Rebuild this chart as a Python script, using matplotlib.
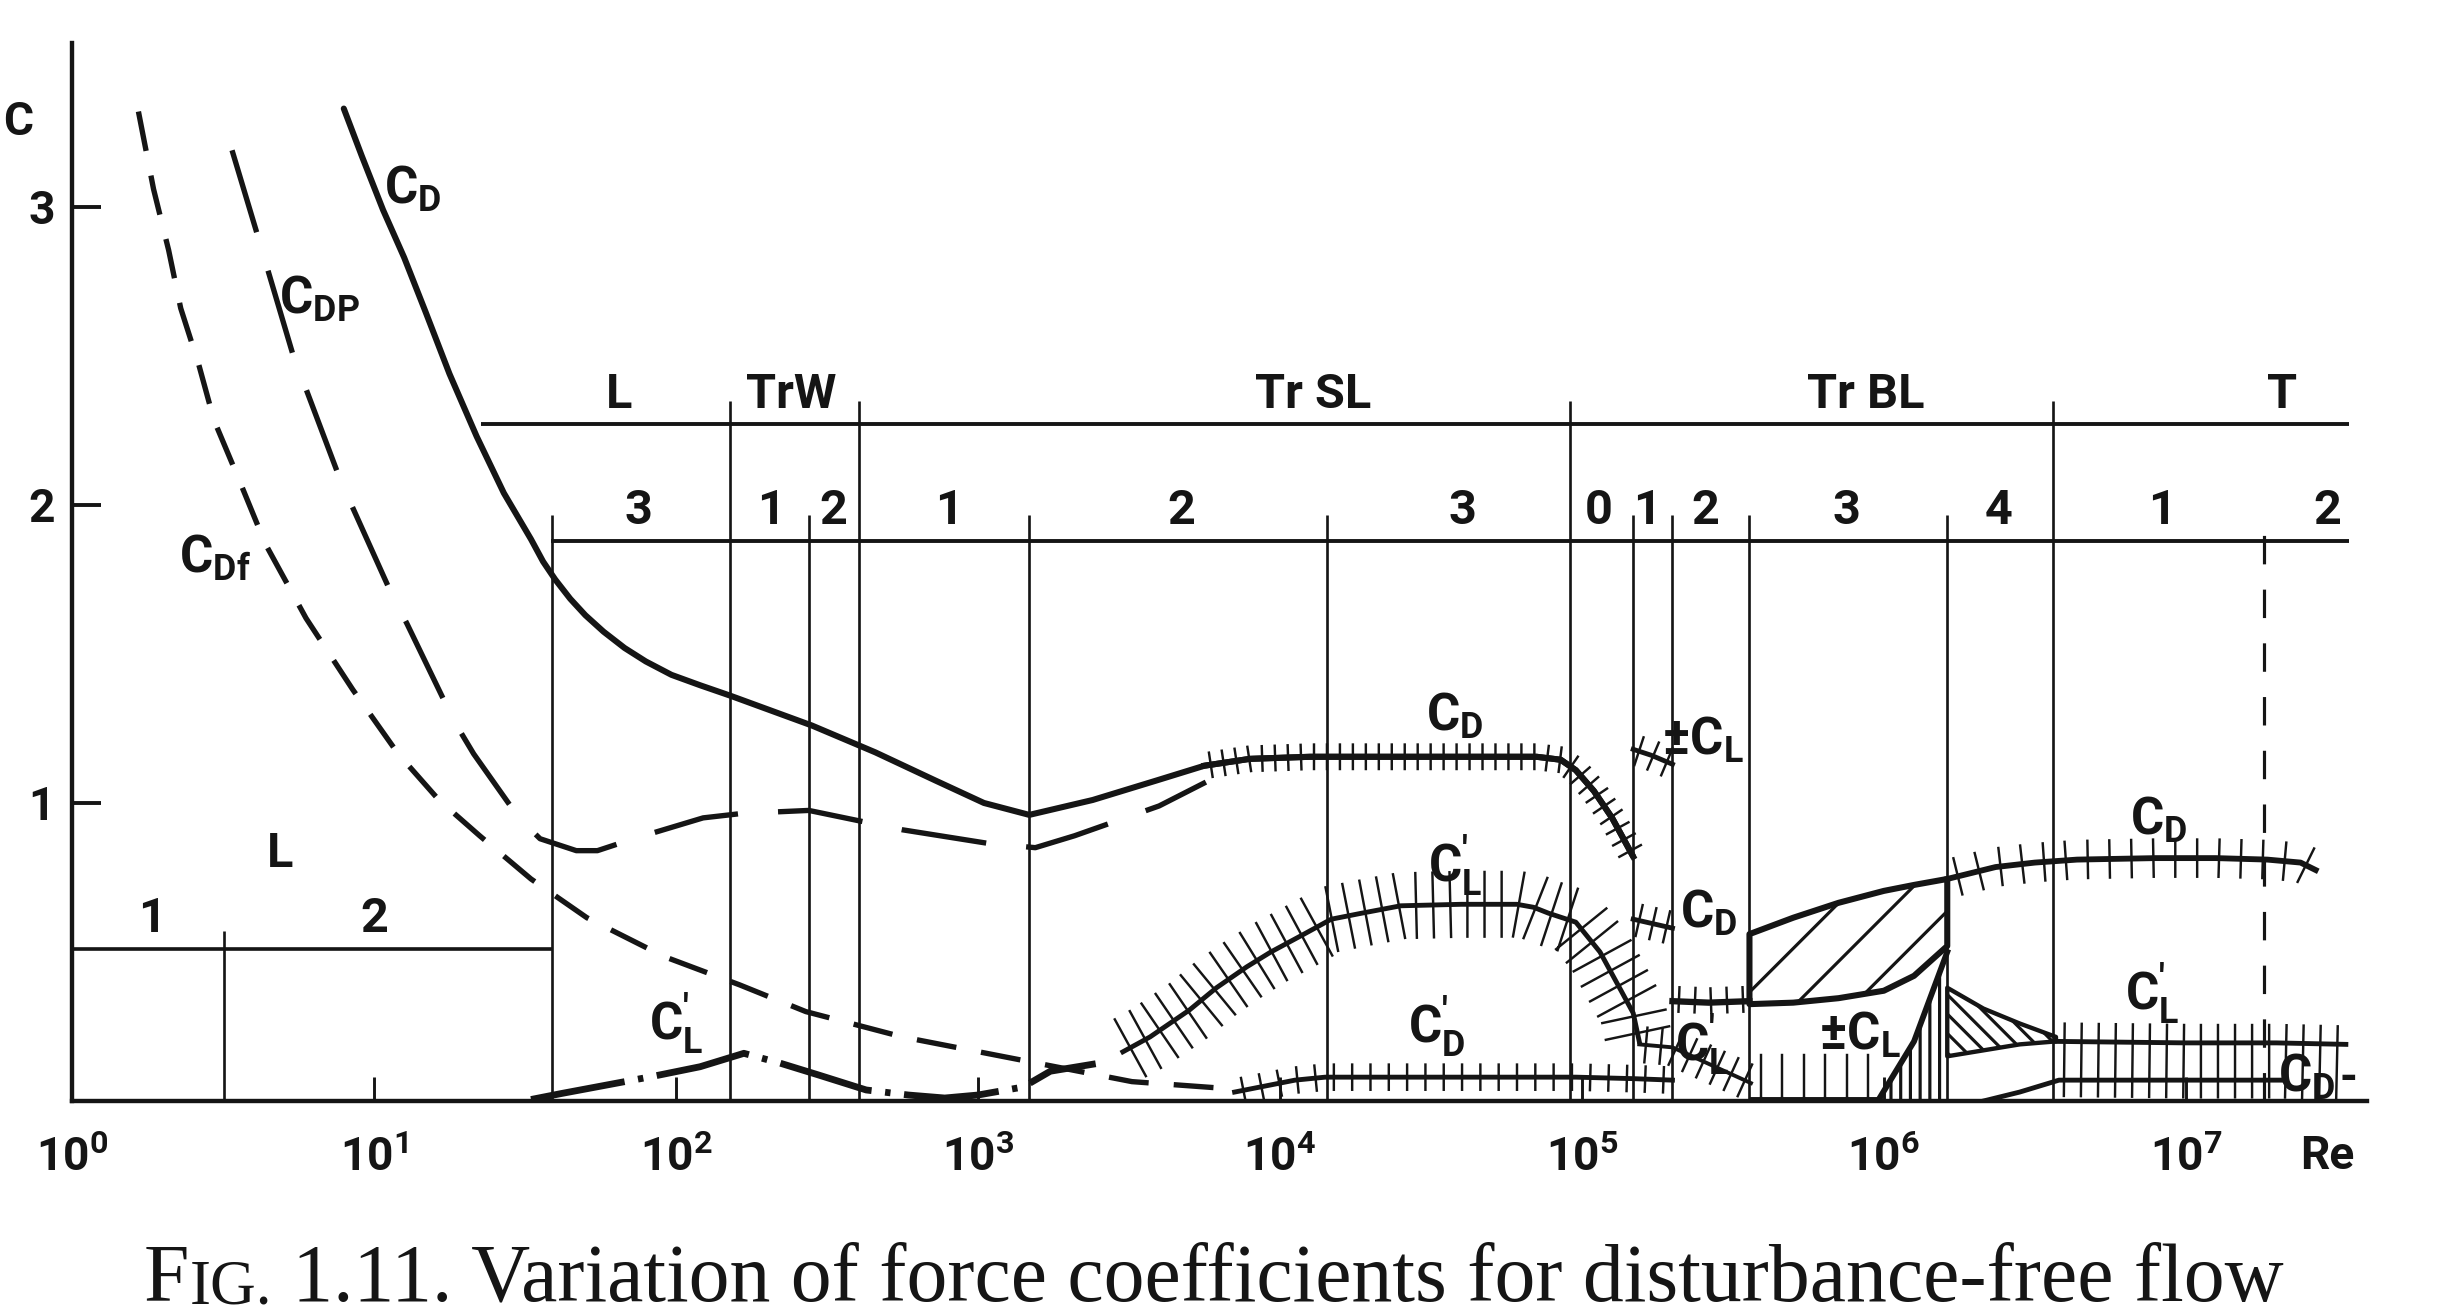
import matplotlib
matplotlib.use('Agg')
import matplotlib.pyplot as plt
import matplotlib.patheffects as pe
from matplotlib.ticker import NullLocator
import numpy as np

# ---- values: log10(Re) and C ----
# total drag C_D (laminar + subcritical)
cd_logre = [0.90, 0.96, 1.03, 1.10, 1.17, 1.25, 1.34, 1.43, 1.52, 1.56, 1.60, 1.65,
            1.70, 1.76, 1.83, 1.90, 1.985, 2.08, 2.18, 2.45, 2.66, 2.86, 3.02, 3.17,
            3.38, 3.59, 3.75, 3.90, 4.10, 4.50, 4.85, 4.93, 4.98, 5.04, 5.10, 5.17]
cd = [3.33, 3.17, 2.99, 2.83, 2.65, 2.44, 2.23, 2.04, 1.885, 1.81, 1.75, 1.685,
      1.63, 1.575, 1.52, 1.475, 1.43, 1.395, 1.36, 1.26, 1.17, 1.075, 1.00, 0.96,
      1.01, 1.075, 1.125, 1.148, 1.155, 1.155, 1.155, 1.145, 1.11, 1.04, 0.95, 0.82]
cd_hatch_from = 26  # index where the hatched (fluctuating) part starts

# pressure drag C_Dp
cdp_logre = [0.53, 0.61, 0.73, 0.89, 1.05, 1.11, 1.265, 1.33, 1.48, 1.55, 1.67, 1.74,
             1.86, 2.09, 2.22, 2.44, 2.75, 3.03, 3.19, 3.32, 3.60, 3.755]
cdp = [3.19, 2.92, 2.51, 2.08, 1.72, 1.60, 1.275, 1.165, 0.95, 0.88, 0.84, 0.84,
       0.88, 0.95, 0.965, 0.975, 0.91, 0.865, 0.85, 0.89, 0.99, 1.07]

# friction drag C_Df
cdf_logre = [0.22, 0.27, 0.32, 0.36, 0.42, 0.47, 0.555, 0.64, 0.775, 0.93, 1.08, 1.215,
             1.35, 1.52, 1.705, 1.96, 2.21, 2.43, 2.75, 3.13, 3.51, 3.78]
cdf = [3.32, 3.06, 2.855, 2.66, 2.47, 2.285, 2.08, 1.87, 1.62, 1.38, 1.165, 1.01,
       0.89, 0.745, 0.615, 0.485, 0.39, 0.30, 0.215, 0.14, 0.065, 0.045]

# fluctuating lift C_L' at low Re
cl_low_logre = [1.52, 1.62, 1.92, 2.08, 2.225, 2.345, 2.47, 2.63, 2.77, 2.89, 3.0, 3.15, 3.24, 3.39]
cl_low = [0.005, 0.025, 0.082, 0.115, 0.16, 0.127, 0.088, 0.037, 0.02, 0.01, 0.02, 0.047, 0.10, 0.125]

# fluctuating lift C_L' subcritical
cl_logre = [3.48, 3.57, 3.70, 3.79, 3.89, 3.97, 4.08, 4.17, 4.27, 4.40, 4.60, 4.785,
            4.84, 4.89, 4.98, 5.06, 5.13, 5.17, 5.19]
cl = [0.165, 0.215, 0.305, 0.38, 0.45, 0.50, 0.56, 0.61, 0.63, 0.655, 0.66, 0.66,
      0.65, 0.63, 0.60, 0.50, 0.37, 0.295, 0.20]

# fluctuating drag C_D'
cdf_fl_logre = [3.85, 3.95, 4.05, 4.15, 4.50, 4.98, 5.17, 5.30]
cd_fl = [0.03, 0.05, 0.07, 0.08, 0.08, 0.08, 0.075, 0.07]

# critical range pieces
clpm_logre = [5.17, 5.23, 5.30]
clpm = [1.18, 1.16, 1.13]
cd_mid_logre = [5.17, 5.30]
cd_mid = [0.61, 0.58]
cd_low_logre = [5.30, 5.42, 5.555]
cd_low = [0.335, 0.33, 0.335]
cl_sup_logre = [5.19, 5.30, 5.56]
cl_sup = [0.19, 0.18, 0.06]
clb_logre = [5.56, 5.98]
clb = [0.01, 0.01]

# supercritical band of C_D
band_logre = [5.555, 5.70, 5.85, 6.0, 6.1, 6.21]
band_hi = [0.56, 0.615, 0.665, 0.705, 0.725, 0.745]
band_lo = [0.325, 0.33, 0.345, 0.37, 0.42, 0.52]

# +-C_L rise and its wedge
rise_logre = [5.98, 6.10, 6.21]
rise = [0.0, 0.20, 0.50]
wedge_logre = [6.21, 6.33, 6.45, 6.57]
wedge_hi = [0.38, 0.31, 0.26, 0.215]
wedge_lo = [0.15, 0.17, 0.19, 0.20]

# transcritical
cdr_logre = [6.21, 6.37, 6.5, 6.64, 6.9, 7.1, 7.27, 7.38, 7.43]
cdr = [0.745, 0.785, 0.80, 0.81, 0.815, 0.815, 0.81, 0.80, 0.775]
clr_logre = [6.57, 7.0, 7.3, 7.53]
clr = [0.20, 0.195, 0.195, 0.19]
cdfr_logre = [6.33, 6.45, 6.58, 7.0, 7.32]
cdfr = [0.0, 0.03, 0.07, 0.07, 0.07]

# regime boundaries
upper_logre = [2.18, 2.605, 4.96, 6.56]
lower_logre = [1.59, 2.44, 3.17, 4.156, 5.17, 5.30, 5.555, 6.21]
dashed_logre = 7.26
band1_y, band2_y = 2.27, 1.88
band1_names = ['L', 'TrW', 'Tr SL', 'Tr BL', 'T']
band1_logre = [1.81, 2.38, 4.11, 5.94, 7.32]
band2_names = ['3', '1', '2', '1', '2', '3', '0', '1', '2', '3', '4', '1', '2']
band2_logre = [1.875, 2.315, 2.52, 2.905, 3.675, 4.606, 5.056, 5.215, 5.41, 5.877, 6.38, 6.92, 7.47]

INK = '#151515'

plt.rcParams['font.family'] = ['Roboto', 'DejaVu Sans']
plt.rcParams['font.weight'] = 'bold'
plt.rcParams['mathtext.default'] = 'regular'
plt.rcParams['hatch.linewidth'] = 1.3
plt.rcParams['hatch.color'] = INK


def re(v):
    return 10 ** np.asarray(v, dtype=float)


def ticks(spacing, up, down, lw=1.0):
    return [pe.TickedStroke(spacing=spacing, angle=90, length=up, linewidth=lw),
            pe.TickedStroke(spacing=spacing, angle=-90, length=down, linewidth=lw),
            pe.Normal()]


fig = plt.figure(figsize=(2448 / 175, 1316 / 175), dpi=175, facecolor='white')
ax = fig.add_axes([72 / 2448, 215 / 1316, 2295 / 2448, 1058 / 1316])
ax.set_xscale('log')
ax.set_xlim(1, 10 ** 7.6)
ax.set_ylim(0, 3.55)
for s in ['top', 'right']:
    ax.spines[s].set_visible(False)
for s in ['left', 'bottom']:
    ax.spines[s].set_linewidth(1.8)
    ax.spines[s].set_color(INK)

ax.set_xticks(re(range(8)))
ax.set_xticklabels([r'$10^{%d}$' % i for i in range(8)], fontsize=19)
ax.xaxis.set_minor_locator(NullLocator())
ax.tick_params(axis='x', direction='in', length=10, width=1.2, pad=14, colors=INK)
ax.set_yticks([1, 2, 3])
ax.set_yticklabels(['1', '2', '3'], fontsize=19)
ax.tick_params(axis='y', direction='in', length=12, width=1.6, pad=7, colors=INK)
fig.text(3 / 2448, 1 - 122 / 1316, 'C', fontsize=19, ha='left', va='center', color=INK)
ax.text(re(7.47), -0.185, 'Re', fontsize=19, ha='center', va='center', color=INK, clip_on=False)

# regime grid
ax.hlines(band1_y, re(1.354), re(7.54), color=INK, lw=1.6)
ax.hlines(band2_y, re(1.586), re(7.54), color=INK, lw=1.6)
ax.vlines(re(upper_logre), 0, 2.35, color=INK, lw=1.1)
ax.vlines(re(lower_logre), 0, 1.965, color=INK, lw=1.1)
ax.vlines(re(dashed_logre), 0, 1.965, color=INK, lw=1.3, linestyles=[(0, (9, 8))])
ax.hlines(0.51, 1, re(1.59), color=INK, lw=1.5)
ax.vlines(re(0.505), 0, 0.57, color=INK, lw=1.1)

for name, x in zip(band1_names, band1_logre):
    ax.text(re(x), 2.37, name, fontsize=20, ha='center', va='center', color=INK)
for name, x in zip(band2_names, band2_logre):
    ax.text(re(x), 1.98, name, fontsize=20, ha='center', va='center', color=INK)
ax.text(re(0.264), 0.61, '1', fontsize=20, ha='center', va='center', color=INK)
ax.text(re(1.0), 0.61, '2', fontsize=20, ha='center', va='center', color=INK)
ax.text(re(0.69), 0.83, 'L', fontsize=20, ha='center', va='center', color=INK)

# curves
ax.plot(re(cd_logre), cd, color=INK, lw=2.5, solid_capstyle='round', solid_joinstyle='round')
ax.plot(re(cd_logre[cd_hatch_from:]), cd[cd_hatch_from:], color=INK, lw=2.5,
        path_effects=ticks(5.3, 0.95, 0.95))
ax.plot(re(cdp_logre), cdp, color=INK, lw=2.2, linestyle=(0, (16, 7.5)))
ax.plot(re(cdf_logre), cdf, color=INK, lw=2.2, linestyle=(0, (7.5, 4.7)))
ax.plot(re(cl_low_logre), cl_low, color=INK, lw=2.8, linestyle=(0, (14, 2, 0.8, 2)))
ax.plot(re(cl_logre), cl, color=INK, lw=2.0, path_effects=ticks(7, 1.9, 1.9))
ax.plot(re(cdf_fl_logre), cd_fl, color=INK, lw=2.0, path_effects=ticks(7.4, 0.7, 0.7))
ax.plot(re(clpm_logre), clpm, color=INK, lw=2.0, path_effects=ticks(5, 1.2, 1.2))
ax.plot(re(cd_mid_logre), cd_mid, color=INK, lw=2.0, path_effects=ticks(5, 1.3, 1.3))
ax.plot(re(cd_low_logre), cd_low, color=INK, lw=2.6, path_effects=ticks(5.3, 1.1, 0.8))
ax.plot(re(cl_sup_logre), cl_sup, color=INK, lw=1.6, path_effects=ticks(5.5, 1.3, 1.3))
ax.plot(re(clb_logre), clb, color=INK, lw=1.2, path_effects=ticks(8, 2.2, 0.1))

ax.fill_between(re(band_logre), band_lo, band_hi, facecolor='none', edgecolor=INK,
                hatch='/', lw=2.5)
ax.fill_between(re(rise_logre), 0, rise, facecolor='none', edgecolor=INK, hatch='|||', lw=0)
ax.plot(re(rise_logre), rise, color=INK, lw=2.4)
ax.fill_between(re(wedge_logre), wedge_lo, wedge_hi, facecolor='none', edgecolor=INK,
                hatch='\\\\\\', lw=1.8)
ax.plot(re(cdr_logre), cdr, color=INK, lw=2.4, path_effects=ticks(9, 0.85, 0.85))
ax.plot(re(clr_logre), clr, color=INK, lw=2.0, path_effects=ticks(7, 1.05, 3.2))
ax.plot(re(cdfr_logre), cdfr, color=INK, lw=2.0)

# curve labels
labels = [
    (1.13, 3.06, r'$C_D$'), (0.82, 2.69, r'$C_{DP}$'), (0.475, 1.82, r'$C_{Df}$'),
    (4.58, 1.29, r'$C_D$'), (5.40, 1.21, r'$\pm C_L$'), (4.58, 0.79, r"$C_L^{\prime}$"),
    (5.42, 0.63, r'$C_D$'), (2.0, 0.26, r"$C_L^{\prime}$"), (4.52, 0.25, r"$C_D^{\prime}$"),
    (5.40, 0.19, r"$C_L^{\prime}$"), (5.92, 0.22, r'$\pm C_L$'), (6.91, 0.94, r'$C_D$'),
    (6.89, 0.36, r"$C_L^{\prime}$"), (7.40, 0.08, r'$C_D$'),
]
for x, y, s in labels:
    ax.text(re(x), y, s, fontsize=21, ha='center', va='center', color=INK)
ax.text(re(7.54), 0.075, '-', fontsize=19, ha='center', va='center', color=INK)

# caption with small caps "IG."
cap_kw = dict(family='Liberation Serif', weight='normal', color=INK)
t1 = fig.text(144 / 2448, 16 / 1316, 'F', fontsize=33.6, va='baseline', **cap_kw)
t2 = ax.annotate('IG.', xy=(1, 0), xycoords=t1, va='bottom', ha='left',
                 fontsize=26, annotation_clip=False, **cap_kw)
ax.annotate(' 1.11. Variation of force coefficients for disturbance-free flow',
            xy=(1, 0), xycoords=t2, va='bottom', ha='left', fontsize=33.6,
            annotation_clip=False, **cap_kw)

fig.savefig('out.png', dpi=175, facecolor='white')
